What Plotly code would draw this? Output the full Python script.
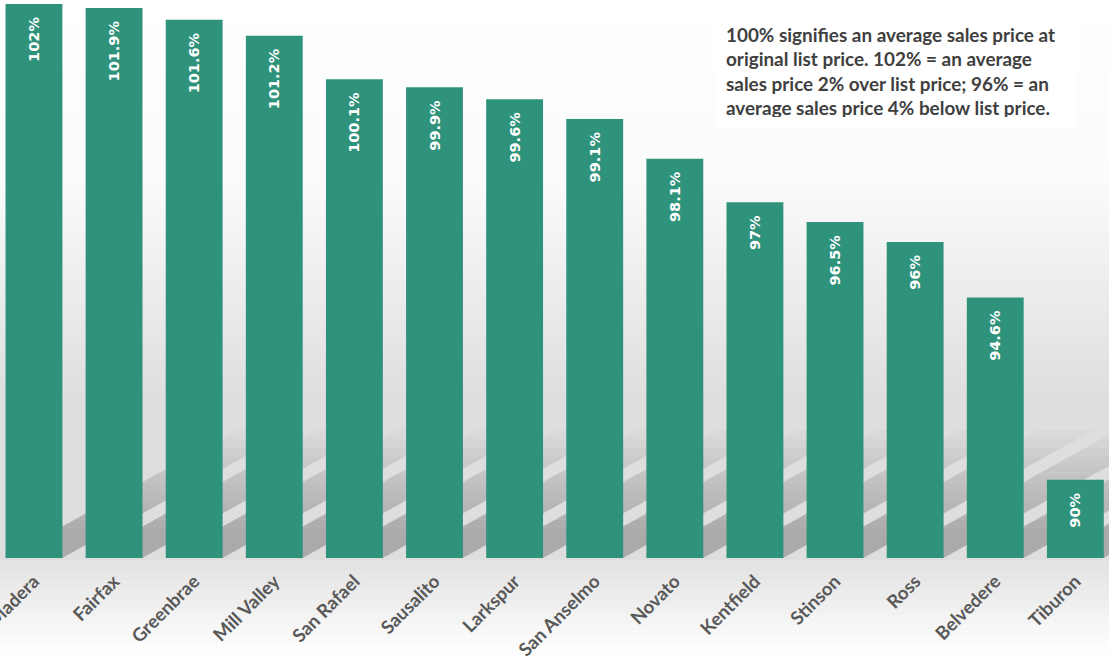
import plotly.graph_objects as go

cities = ["Corte Madera", "Fairfax", "Greenbrae", "Mill Valley", "San Rafael", "Sausalito",
          "Larkspur", "San Anselmo", "Novato", "Kentfield", "Stinson", "Ross", "Belvedere", "Tiburon"]
pct = [102, 101.9, 101.6, 101.2, 100.1, 99.9, 99.6, 99.1, 98.1, 97, 96.5, 96, 94.6, 90]
labels = ["102%", "101.9%", "101.6%", "101.2%", "100.1%", "99.9%", "99.6%", "99.1%",
          "98.1%", "97%", "96.5%", "96%", "94.6%", "90%"]

note = ("100% signifies an average sales price at<br>"
        "original list price. 102% = an average<br>"
        "sales price 2% over list price; 96% = an<br>"
        "average sales price 4% below list price.")

W, H = 1109, 665
MB = 107
PH = H - MB          # plot-area height in px
Y0, Y1 = 88.03, 102.1
X0, X1 = -0.424, 13.42
BARGAP = 0.29

fig = go.Figure()
fig.add_trace(go.Bar(
    x=cities, y=pct, text=labels, textposition="inside", insidetextanchor="end",
    texttemplate="%{text}\u00a0\u00a0",
    textangle=-90, textfont=dict(family="DejaVu Sans", size=14.5, color="white", weight="bold"),
    marker=dict(color="#2F927A", line=dict(width=0)),
    hoverinfo="skip",
))

shapes = []
# background gradient, by pixel rows
def grey_at(py):
    if py < 180:
        return 255 - 4 * py / 180
    if py < 400:
        return 251 - 29 * (py - 180) / 220
    if py < 560:
        return 222
    if py < 655:
        return 226 + 29 * (py - 560) / 95
    return 255

step = 5
for py in range(0, H, step):
    g = int(round(grey_at(py + step / 2)))
    shapes.append(dict(type="rect", xref="paper", yref="paper", x0=0, x1=1,
                       y0=1 - (py + step) / PH, y1=1 - py / PH, line=dict(width=0),
                       fillcolor=f"rgb({g},{g},{g})", layer="below"))

# soft cast shadows behind bars (skewed up-right from each bar base), faded toward the top
px_per_unit = W / (X1 - X0)
pct_per_px = (Y1 - Y0) / PH
half = (1 - BARGAP) / 2
slope = 1.8          # horizontal px per vertical px
heights = list(range(128, 20, -9))
for i, v in enumerate(pct):
    bar_h_px = (v - Y0) / pct_per_px
    for hh in heights:
        h = min(hh, bar_h_px)
        dx = slope * h / px_per_unit
        top = Y0 + h * pct_per_px
        xl, xr = i - half, i + half
        path = f"M {xl},{Y0} L {xr},{Y0} L {xr + dx},{top} L {xl + dx},{top} Z"
        shapes.append(dict(type="path", xref="x", yref="y", path=path,
                           fillcolor="rgba(0,0,0,0.021)", line=dict(width=0), layer="below"))

fig.update_layout(
    width=W, height=H,
    margin=dict(l=0, r=0, t=0, b=MB),
    paper_bgcolor="white", plot_bgcolor="rgba(0,0,0,0)",
    bargap=BARGAP, showlegend=False,
    shapes=shapes,
    xaxis=dict(range=[X0, X1], tickangle=-45, showgrid=False, zeroline=False,
               showline=False, ticks="", automargin=False, ticklabelstandoff=8,
               tickfont=dict(family="Lato", size=18.5, color="#595959", weight="bold")),
    yaxis=dict(range=[Y0, Y1], showgrid=False, zeroline=False, showline=False,
               showticklabels=False, ticks="", automargin=False),
    annotations=[dict(
        text=note, xref="paper", yref="paper", x=715 / W, y=1 - 14 / PH,
        xanchor="left", yanchor="top", width=340, height=92, valign="middle",
        showarrow=False, align="left", bgcolor="white", borderpad=10,
        font=dict(family="Lato", size=18.9, color="#404040", weight="bold"),
    )],
)
fig.write_html("out.html", config={"displayModeBar": False},
               post_script="document.body.style.margin='0';document.body.style.padding='0';")
